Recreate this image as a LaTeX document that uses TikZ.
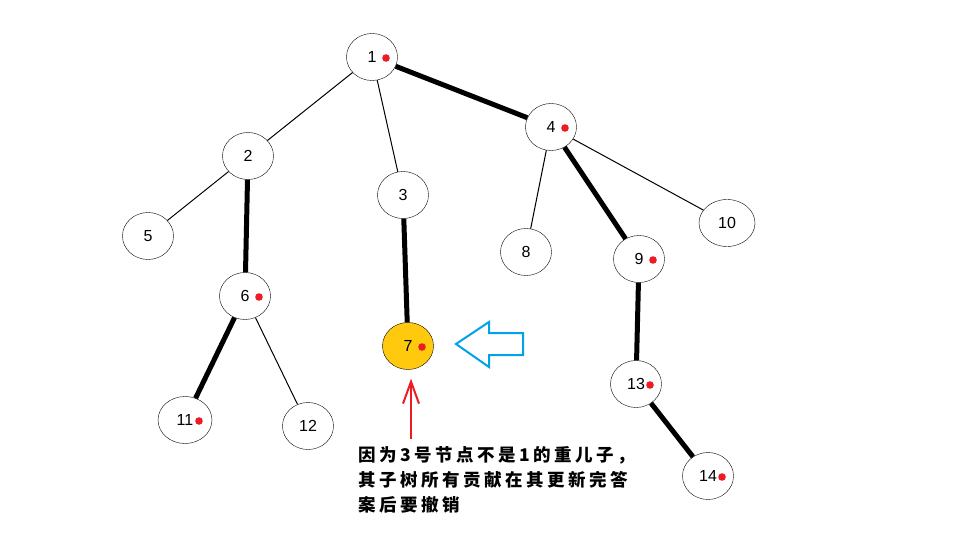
\documentclass[tikz,border=0pt]{standalone}
\usepackage{fontspec}
\setsansfont{Liberation Sans}
\newfontfamily\cjk[LetterSpace=20]{Noto Sans CJK SC}
\usepackage{xcolor}
\usetikzlibrary{shapes.geometric, arrows.meta, positioning, calc}
\definecolor{paintyellow}{RGB}{255,201,14}
\definecolor{paintblue}{RGB}{0,162,232}
\definecolor{paintred}{RGB}{237,28,36}

\begin{document}
\begin{tikzpicture}[x=1pt,y=-1pt,
  vertex/.style={draw,ellipse,minimum width=51pt,minimum height=47pt,inner sep=0pt,
    font=\sffamily\fontsize{16}{16}\selectfont},
  heavy/.style={path picture={\fill[paintred] ($(path picture bounding box.center)+(14pt,-1pt)$) circle (3.8pt);}},
  light/.style={line width=1pt},
  chain/.style={line width=5pt},
  pointer/.style={-{Straight Barb[length=22pt,width=16pt]},paintred,line width=2pt},
  hintarrow/.style={paintblue,line width=2pt,line join=miter},
  note/.style={align=left,inner sep=0pt,font=\cjk\bfseries\fontsize{17.5}{25}\selectfont}]
  \fill[white] (0,0) rectangle (960,540);
  \useasboundingbox (0,0) rectangle (960,540);
  % tree
  \node[vertex,heavy] (n1) at (372,57) {1};
  \node[vertex] (n2) at (248,156) {2};
  \node[vertex] (n3) at (403,195) {3};
  \node[vertex,heavy] (n4) at (551,127) {4};
  \node[vertex] (n5) at (148,236) {5};
  \node[vertex,heavy] (n6) at (245,296) {6};
  \node[vertex,heavy,fill=paintyellow] (n7) at (408,346) {7};
  \node[vertex] (n8) at (526,252) {8};
  \node[vertex,heavy] (n9) at (639,259) {9};
  \node[vertex,minimum width=56pt] (n10) at (727,223) {10};
  \node[vertex,heavy,minimum width=54pt] (n11) at (185,420) {11};
  \node[vertex] (n12) at (308,426) {12};
  \node[vertex,heavy] (n13) at (636,384) {13};
  \node[vertex,heavy] (n14) at (708,476) {14};
  \draw[light] (n1)--(n2);
  \draw[light] (n1)--(n3);
  \draw[chain] (n1)--(n4);
  \draw[light] (n2)--(n5);
  \draw[chain] (n2)--(n6);
  \draw[chain] (n3)--(n7);
  \draw[light] (n4)--(n8);
  \draw[chain] (n4)--(n9);
  \draw[light] (n4)--(n10);
  \draw[chain] (n6)--(n11);
  \draw[light] (n6)--(n12);
  \draw[chain] (n9)--(n13);
  \draw[chain] (n13)--(n14);
  % hints
  \coordinate (hint) at (456,344);
  \draw[hintarrow] (hint) -- ++(33,-22) -- ++(0,11) -- ++(34,0) -- ++(0,22)
    -- ++(-34,0) -- ++(0,12) -- cycle;
  \node[note,anchor=north west] (why) at (358,446) {因为3号节点不是1的重儿子，\\其子树所有贡献在其更新完答\\案后要撤销};
  \coordinate (tail) at (411,439);
  \draw[pointer,shorten >=9pt] (tail) -- (tail |- n7.south);
\end{tikzpicture}
\end{document}
